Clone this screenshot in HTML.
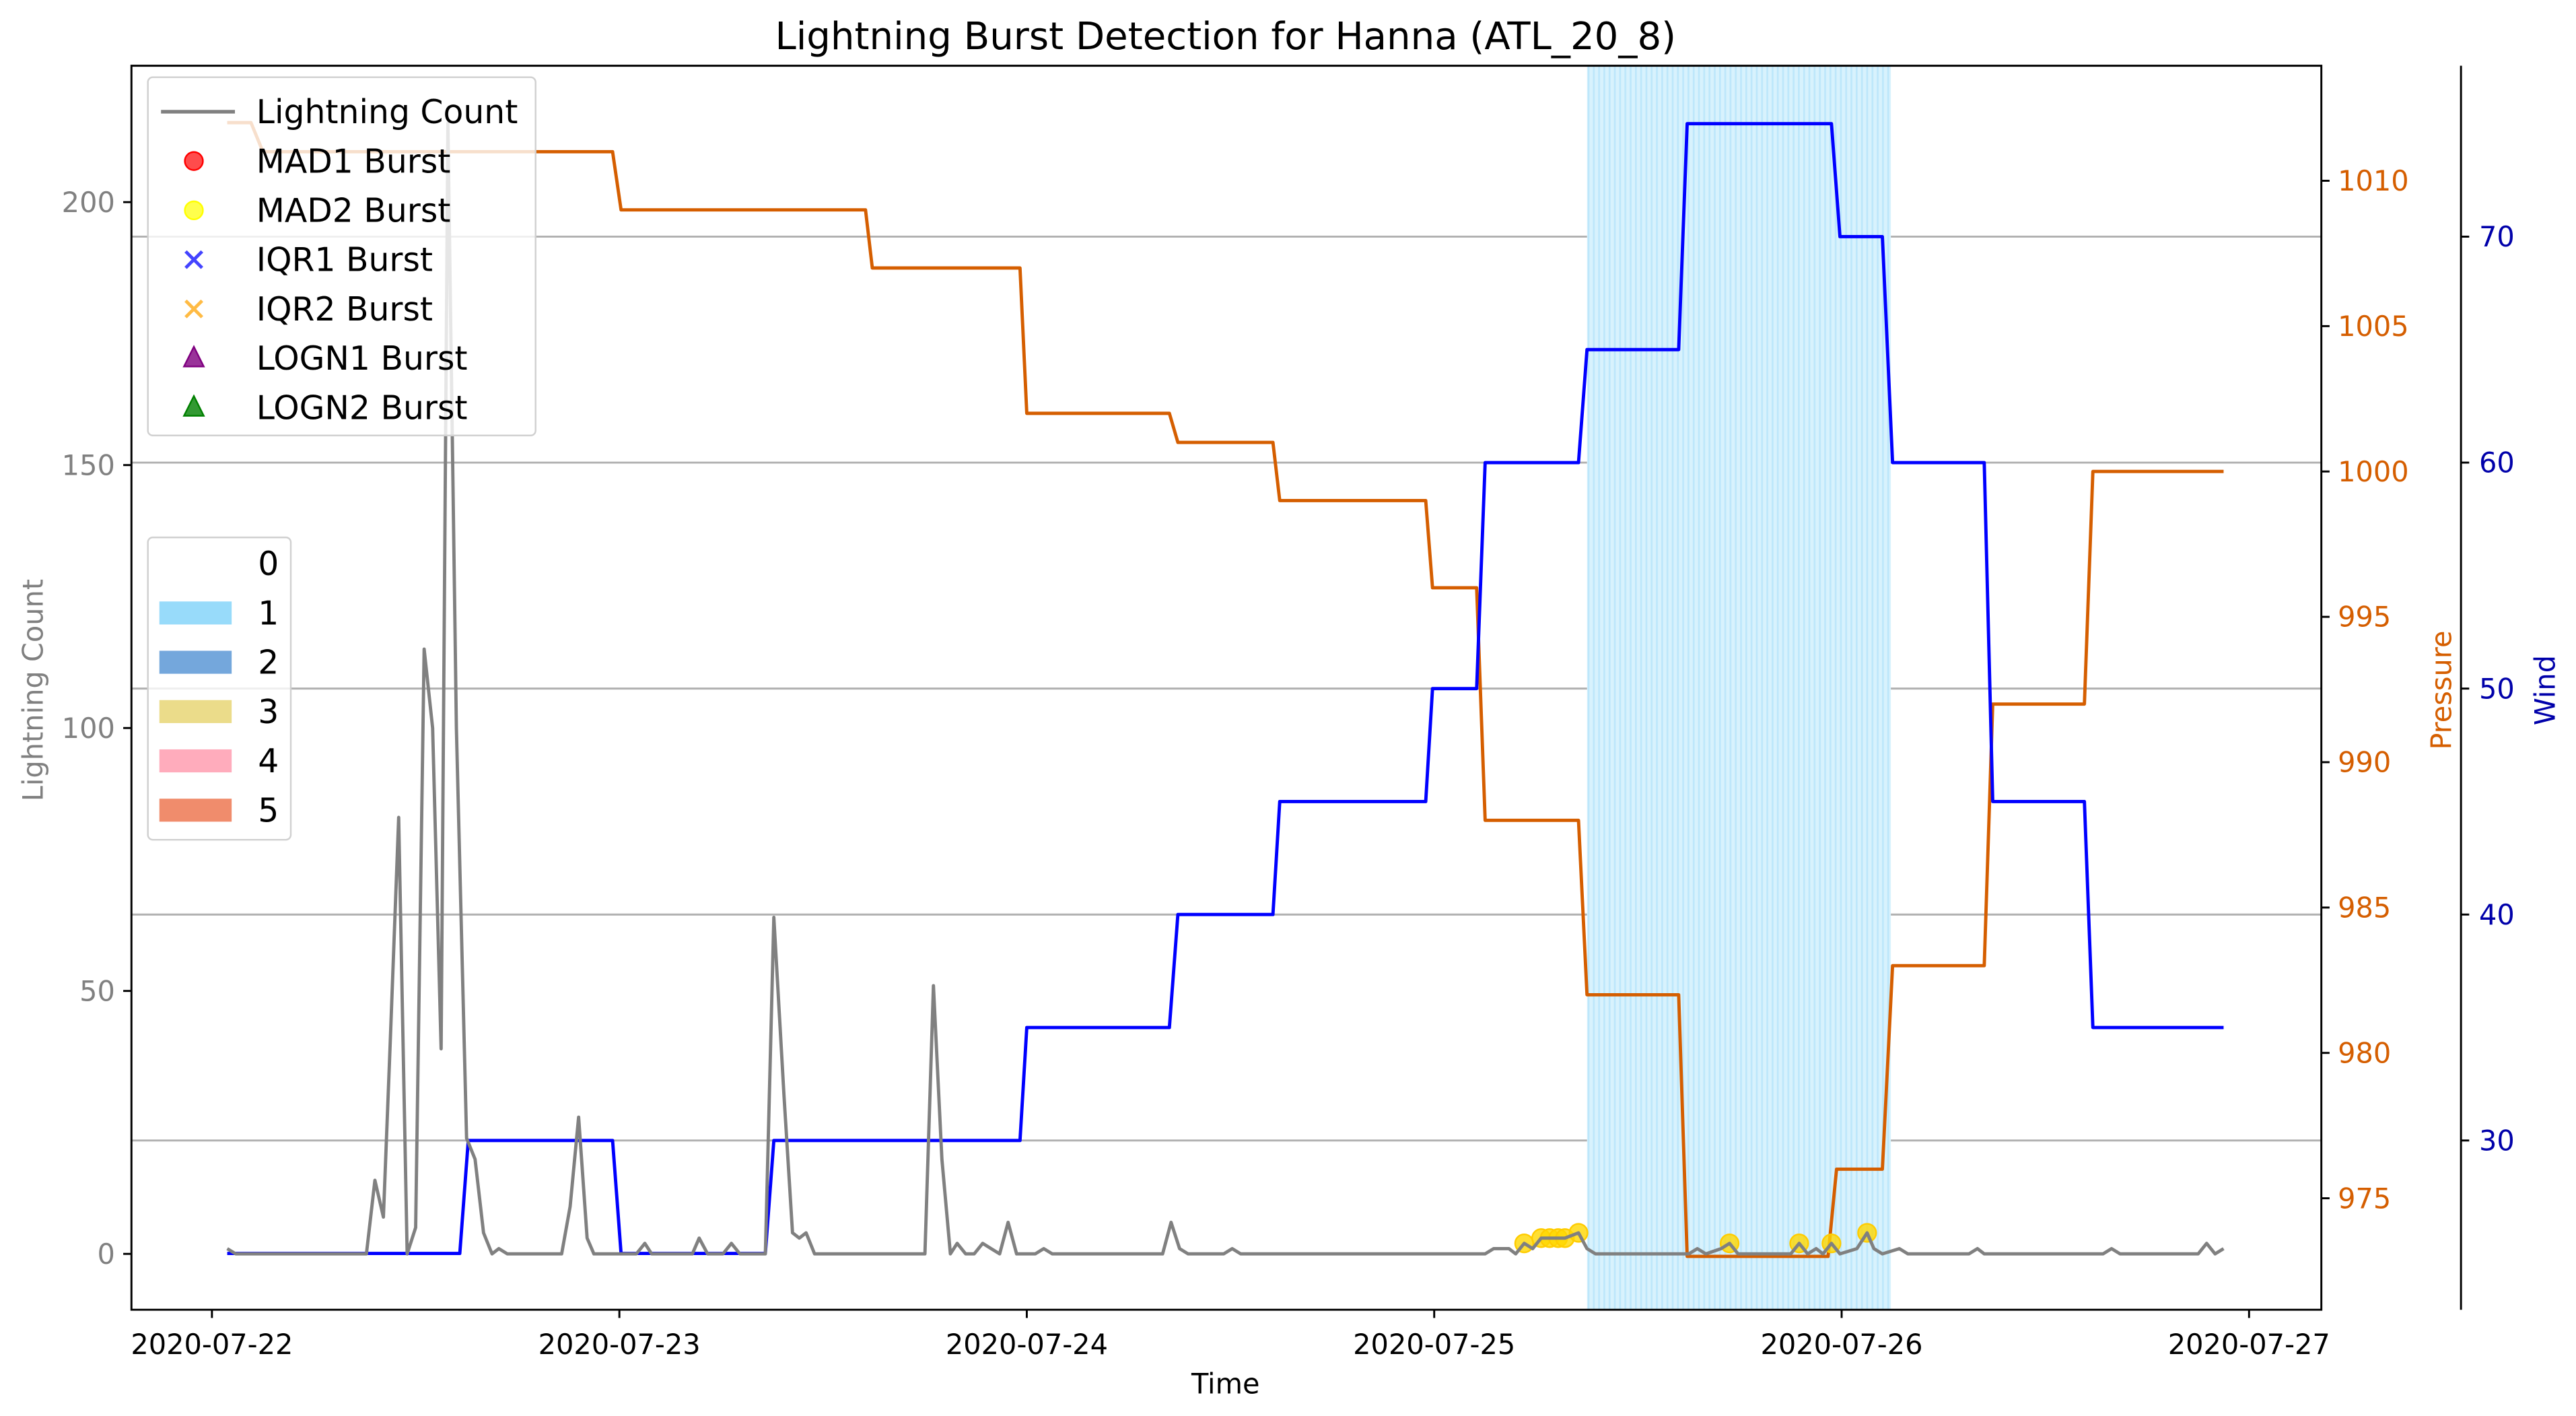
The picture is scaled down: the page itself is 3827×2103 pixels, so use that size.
<!DOCTYPE html>
<html><head><meta charset="utf-8"><style>
html,body{margin:0;padding:0;background:#fff;}
svg{display:block;font-family:"DejaVu Sans","Liberation Sans",sans-serif;}
</style></head><body>
<svg id="chart" width="3827" height="2103" viewBox="0 0 1568 861.65" xmlns="http://www.w3.org/2000/svg">
<defs>
<pattern id="stripes" patternUnits="userSpaceOnUse" width="3.2" height="10">
<rect width="3.2" height="10" fill="#d8f2fd"/><rect width="1.1" height="10" fill="#bde7fb"/>
</pattern>
</defs>
<rect width="1568" height="862" fill="#fff"/>
<g id="grid"></g>
<g id="shade"></g>
<g id="series"></g>
<g id="axes"></g>
<text x="746" y="30" font-size="23" text-anchor="middle">Lightning Burst Detection for Hanna (ATL_20_8)</text>
<text x="746" y="848" font-size="17" text-anchor="middle">Time</text>
<text transform="translate(26,420) rotate(-90)" font-size="17" fill="#808080" text-anchor="middle">Lightning Count</text>
<text transform="translate(1492,420) rotate(-90)" font-size="17" fill="#d55e00" text-anchor="middle">Pressure</text>
<text transform="translate(1555,420) rotate(-90)" font-size="17" fill="#0000aa" text-anchor="middle">Wind</text>
<g>
<rect x="90" y="47" width="236" height="218" rx="3" fill="#fff" fill-opacity="0.8" stroke="#d0d0d0"/>
<line x1="98" y1="68" x2="143" y2="68" stroke="#808080" stroke-width="2.2"/>
<text x="156" y="75" font-size="20">Lightning Count</text>
<circle cx="118" cy="98" r="5.5" fill="#ff0000" fill-opacity="0.7" stroke="#ff0000"/>
<text x="156" y="105" font-size="20">MAD1 Burst</text>
<circle cx="118" cy="128" r="5.5" fill="#ffff00" fill-opacity="0.7" stroke="#ffff00"/>
<text x="156" y="135" font-size="20">MAD2 Burst</text>
<path d="M113,153 L123,163 M123,153 L113,163" stroke="#4444ff" stroke-width="2"/>
<text x="156" y="165" font-size="20">IQR1 Burst</text>
<path d="M113,183 L123,193 M123,183 L113,193" stroke="#ffbb44" stroke-width="2"/>
<text x="156" y="195" font-size="20">IQR2 Burst</text>
<path d="M118,211 L124,223 L112,223 Z" fill="#993399" stroke="#800080"/>
<text x="156" y="225" font-size="20">LOGN1 Burst</text>
<path d="M118,241 L124,253 L112,253 Z" fill="#339933" stroke="#008000"/>
<text x="156" y="255" font-size="20">LOGN2 Burst</text>
</g>
<g>
<rect x="90" y="327" width="87" height="184" rx="3" fill="#fff" fill-opacity="0.8" stroke="#d0d0d0"/>
<text x="157" y="350" font-size="20">0</text>
<rect x="97" y="366" width="44" height="14" fill="#98dbfa"/><text x="157" y="380" font-size="20">1</text>
<rect x="97" y="396" width="44" height="14" fill="#74a7dc"/><text x="157" y="410" font-size="20">2</text>
<rect x="97" y="426" width="44" height="14" fill="#ebdc8a"/><text x="157" y="440" font-size="20">3</text>
<rect x="97" y="456" width="44" height="14" fill="#ffacbc"/><text x="157" y="470" font-size="20">4</text>
<rect x="97" y="486" width="44" height="14" fill="#f08c6c"/><text x="157" y="500" font-size="20">5</text>
</g>
</svg>
<script>
// data (time in hours since 2020-07-22 00:00)
const lcHours=[0.9,1.4,9.1,9.6,10.1,10.5,11.0,11.5,12.0,12.5,13.0,13.5,13.9,14.4,15.0,15.5,16.0,16.5,16.9,17.4,20.6,21.1,21.6,22.1,22.5,25.0,25.5,25.9,28.3,28.7,29.2,30.1,30.6,31.1,32.6,33.1,33.7,34.2,34.6,35.0,35.5,42.0,42.5,43.0,43.5,43.9,44.4,44.9,45.4,45.9,46.4,46.9,47.4,48.5,49.0,49.5,56.0,56.5,57.0,57.5,59.6,60.1,60.6,75.0,75.5,76.4,76.8,77.3,77.8,78.3,78.8,79.3,79.7,80.5,81.0,81.5,87.0,87.5,88.0,88.9,89.4,89.9,93.0,93.5,94.0,94.5,94.9,95.4,95.9,96.9,97.5,97.9,98.4,99.4,99.9,103.5,104.0,104.4,111.4,111.9,112.4,117.0,117.5,118.0,118.5];
const lcCounts=[1,0,0,14,7,40,83,0,5,115,100,39,215,100,22,18,4,0,1,0,0,9,26,3,0,0,2,0,0,3,0,0,2,0,0,64,30,4,3,4,0,0,51,18,0,2,0,0,2,1,0,6,0,0,1,0,0,6,1,0,0,1,0,0,1,1,0,2,1,3,3,3,3,4,1,0,0,1,0,1,2,0,0,2,0,1,0,2,0,1,4,1,0,1,0,0,1,0,0,1,0,0,2,0,1];
const burstHours=[77.3,78.3,78.8,79.3,79.7,80.5,89.4,93.5,95.4,97.5];
const burstCounts=[2,3,3,3,3,4,2,2,2,4];
const presHours=[0.9,2.3,3.0,23.6,24.1,38.5,38.9,47.6,48.0,56.4,56.9,62.5,62.9,71.5,71.9,74.5,75.0,80.5,81.0,86.4,86.9,95.2,95.7,98.4,99.0,104.4,104.9,110.3,110.8,118.5];
const presValues=[1012,1012,1011,1011,1009,1009,1007,1007,1002,1002,1001,1001,999,999,996,996,988,988,982,982,973,973,976,976,983,983,992,992,1000,1000];
const windHours=[0.9,14.6,15.1,23.6,24.1,32.6,33.1,47.6,48.0,56.4,56.9,62.5,62.9,71.5,71.9,74.5,75.0,80.5,81.0,86.4,86.9,95.4,95.9,98.4,99.0,104.4,104.9,110.3,110.8,118.5];
const windValues=[25,25,30,30,25,25,30,30,35,35,40,40,45,45,50,50,60,60,65,65,75,75,70,70,60,60,45,45,35,35];
const shadeStart=81.0, shadeEnd=98.9;
const xTickLabels=["2020-07-22","2020-07-23","2020-07-24","2020-07-25","2020-07-26","2020-07-27"];
const lcTicks=[0,50,100,150,200];
const presTicks=[975,980,985,990,995,1000,1005,1010];
const windTicks=[30,40,50,60,70];

const L=80,R=1413,T=40,B=797;
const xs=h=>129+h*248/24;
const yl=c=>763-c*3.2;
const yp=p=>110+(1010-p)*17.69;
const yw=w=>144+(70-w)*13.75;
const NS="http://www.w3.org/2000/svg";
function mk(tag,attrs,parent){const e=document.createElementNS(NS,tag);for(const k in attrs)e.setAttribute(k,attrs[k]);parent.appendChild(e);return e;}
const grid=document.getElementById('grid'),shade=document.getElementById('shade'),ser=document.getElementById('series'),axes=document.getElementById('axes');

windTicks.forEach(w=>{const g=mk('line',{x1:L,x2:R,y1:yw(w),y2:yw(w),stroke:'#b0b0b0','stroke-width':1.2},grid);

});

const sh=mk('rect',{x:xs(shadeStart),y:T,width:xs(shadeEnd)-xs(shadeStart),height:B-T,fill:'url(#stripes)'},shade);



function poly(hs,vs,fy,color,w,name){const p=mk('polyline',{points:hs.map((h,i)=>xs(h).toFixed(2)+','+fy(vs[i]).toFixed(2)).join(' '),fill:'none',stroke:color,'stroke-width':w,'stroke-linejoin':'round'},ser);

}
poly(presHours,presValues,yp,'#d55e00',2,'pressure-line');
poly(windHours,windValues,yw,'#0000ff',2,'wind-line');
burstHours.forEach((h,i)=>{const c=mk('circle',{cx:xs(h),cy:yl(burstCounts[i]),r:5.5,fill:'#ffd700','fill-opacity':0.8,stroke:'#ffcc00'},ser);

});
poly(lcHours,lcCounts,yl,'#808080',2,'lightning-count-line');

// axes
const fr=mk('path',{d:`M${L},${T} L${R},${T} L${R},${B} L${L},${B} Z`,fill:'none',stroke:'#000','stroke-width':1.2},axes);


const sp=mk('line',{x1:1498,x2:1498,y1:T,y2:B,stroke:'#000','stroke-width':1.2},axes);


xTickLabels.forEach((t,i)=>{const x=xs(i*24);mk('line',{x1:x,x2:x,y1:B,y2:B+5,stroke:'#000','stroke-width':1.2},axes);
const tx=mk('text',{x:x,y:B+27,'font-size':17,'text-anchor':'middle'},axes);tx.textContent=t;

});
lcTicks.forEach(v=>{const y=yl(v);mk('line',{x1:L-5,x2:L,y1:y,y2:y,stroke:'#000','stroke-width':1.2},axes);
const tx=mk('text',{x:L-10,y:y+6,'font-size':17,'text-anchor':'end',fill:'#808080'},axes);tx.textContent=v;

});
presTicks.forEach(v=>{const y=yp(v);mk('line',{x1:R,x2:R+5,y1:y,y2:y,stroke:'#000','stroke-width':1.2},axes);
const tx=mk('text',{x:R+10,y:y+6,'font-size':17,fill:'#d55e00'},axes);tx.textContent=v;

});
windTicks.forEach(v=>{const y=yw(v);mk('line',{x1:1498,x2:1503,y1:y,y2:y,stroke:'#000','stroke-width':1.2},axes);
const tx=mk('text',{x:1509,y:y+6,'font-size':17,fill:'#0000aa'},axes);tx.textContent=v;

});
</script>
</body></html>
